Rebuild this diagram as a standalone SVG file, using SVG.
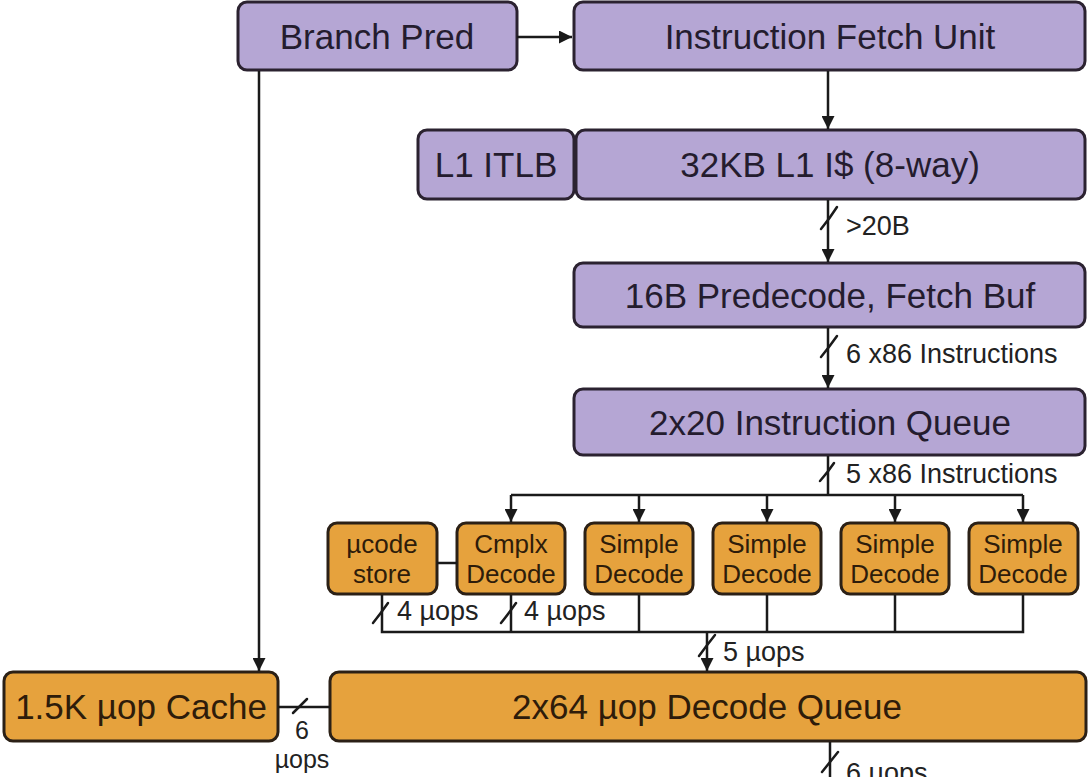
<svg xmlns="http://www.w3.org/2000/svg" width="1089" height="777" viewBox="0 0 1089 777">
  <defs>
    <marker id="arrow" viewBox="0 0 10 10" refX="10" refY="5" markerWidth="13" markerHeight="13" markerUnits="userSpaceOnUse" orient="auto">
      <path d="M0,0 L10,5 L0,10 z" fill="#1a1a1a"/>
    </marker>
    <style>
      .fe { fill: #b5a6d4; stroke: #2b2230; stroke-width: 3; }
      .de { fill: #e6a23d; stroke: #2b2016; stroke-width: 3; }
      .big { font-family: "Liberation Sans", Arial, sans-serif; font-size: 35px; fill: #241c2e; text-anchor: middle; }
      .bigo { font-family: "Liberation Sans", Arial, sans-serif; font-size: 35px; fill: #2e1c0a; text-anchor: middle; }
      .dec { font-family: "Liberation Sans", Arial, sans-serif; font-size: 26px; fill: #2e1c0a; text-anchor: middle; }
      .lbl { font-family: "Liberation Sans", Arial, sans-serif; font-size: 27px; fill: #222; }
      .wire { fill: none; stroke: #1a1a1a; stroke-width: 2.5; }
      .arr { fill: none; stroke: #1a1a1a; stroke-width: 2.5; marker-end: url(#arrow); }
      .slash { fill: none; stroke: #1a1a1a; stroke-width: 2.5; stroke-linecap: round; }
    </style>
  </defs>

  <!-- front end -->
  <g id="branch-pred">
    <rect class="fe" x="238" y="2" width="279" height="68" rx="9"/>
    <text class="big" x="377" y="49">Branch Pred</text>
  </g>
  <g id="fetch-unit">
    <rect class="fe" x="574" y="2" width="511" height="68" rx="9"/>
    <text class="big" x="830" y="49">Instruction Fetch Unit</text>
  </g>
  <g id="itlb">
    <rect class="fe" x="418" y="130" width="156" height="69" rx="9"/>
    <text class="big" x="496" y="177">L1 ITLB</text>
  </g>
  <g id="icache">
    <rect class="fe" x="576" y="130" width="509" height="69" rx="9"/>
    <text class="big" x="830" y="177">32KB L1 I$ (8-way)</text>
  </g>
  <g id="predecode">
    <rect class="fe" x="574" y="263" width="511" height="64" rx="9"/>
    <text class="big" x="830" y="308">16B Predecode, Fetch Buf</text>
  </g>
  <g id="inst-queue">
    <rect class="fe" x="574" y="389" width="511" height="66" rx="9"/>
    <text class="big" x="830" y="435">2x20 Instruction Queue</text>
  </g>

  <!-- decoders -->
  <g id="ucode-store">
    <rect class="de" x="328" y="523" width="109" height="71" rx="9"/>
    <text class="dec" x="382" y="553">µcode</text>
    <text class="dec" x="382" y="583">store</text>
  </g>
  <g id="cmplx-decode">
    <rect class="de" x="457" y="523" width="108" height="71" rx="9"/>
    <text class="dec" x="511" y="553">Cmplx</text>
    <text class="dec" x="511" y="583">Decode</text>
  </g>
  <g id="simple-decode-1">
    <rect class="de" x="585" y="523" width="108" height="71" rx="9"/>
    <text class="dec" x="639" y="553">Simple</text>
    <text class="dec" x="639" y="583">Decode</text>
  </g>
  <g id="simple-decode-2">
    <rect class="de" x="713" y="523" width="108" height="71" rx="9"/>
    <text class="dec" x="767" y="553">Simple</text>
    <text class="dec" x="767" y="583">Decode</text>
  </g>
  <g id="simple-decode-3">
    <rect class="de" x="841" y="523" width="108" height="71" rx="9"/>
    <text class="dec" x="895" y="553">Simple</text>
    <text class="dec" x="895" y="583">Decode</text>
  </g>
  <g id="simple-decode-4">
    <rect class="de" x="969" y="523" width="109" height="71" rx="9"/>
    <text class="dec" x="1023" y="553">Simple</text>
    <text class="dec" x="1023" y="583">Decode</text>
  </g>

  <!-- uop cache and decode queue -->
  <g id="uop-cache">
    <rect class="de" x="4" y="672" width="274" height="69" rx="9"/>
    <text class="bigo" x="141" y="719">1.5K µop Cache</text>
  </g>
  <g id="decode-queue">
    <rect class="de" x="330" y="672" width="756" height="69" rx="9"/>
    <text class="bigo" x="707" y="719">2x64 µop Decode Queue</text>
  </g>

  <!-- connectors -->
  <g id="connectors">
    <path class="arr" d="M517,37 H572"/>
    <path class="arr" d="M828,71 V129"/>
    <path class="arr" d="M828,200 V262"/>
    <path class="arr" d="M828,328 V388"/>
    <path class="wire" d="M828,456 V495"/>
    <path class="wire" d="M511,495 H1023"/>
    <path class="arr" d="M511,495 V522"/>
    <path class="arr" d="M639,495 V522"/>
    <path class="arr" d="M767,495 V522"/>
    <path class="arr" d="M895,495 V522"/>
    <path class="arr" d="M1023,495 V522"/>
    <path class="wire" d="M437,563 H457"/>
    <path class="wire" d="M382,595 V632 H1023 V595"/>
    <path class="wire" d="M511,595 V632"/>
    <path class="wire" d="M639,595 V632"/>
    <path class="wire" d="M767,595 V632"/>
    <path class="wire" d="M895,595 V632"/>
    <path class="arr" d="M707,632 V671"/>
    <path class="arr" d="M259,71 V671"/>
    <path class="wire" d="M278,707 H330"/>
    <path class="wire" d="M830,742 V777"/>

    <!-- width slashes -->
    <path class="slash" d="M821,229 Q830,218 837,207"/>
    <path class="slash" d="M821,357 Q830,346 837,336"/>
    <path class="slash" d="M820,481 Q828,472 834,463"/>
    <path class="slash" d="M373,623 Q381,613 388,603"/>
    <path class="slash" d="M501,623 Q509,613 516,603"/>
    <path class="slash" d="M699,656 Q707,645 715,635"/>
    <path class="slash" d="M293,713 Q300,706 307,699"/>
    <path class="slash" d="M822,772 Q830,762 838,752"/>
  </g>

  <!-- bus widths -->
  <g id="labels">
    <text class="lbl" x="846" y="235">&gt;20B</text>
    <text class="lbl" x="846" y="363">6 x86 Instructions</text>
    <text class="lbl" x="846" y="483">5 x86 Instructions</text>
    <text class="lbl" x="397" y="620">4 µops</text>
    <text class="lbl" x="524" y="620">4 µops</text>
    <text class="lbl" x="723" y="661">5 µops</text>
    <text class="lbl" x="302" y="739" text-anchor="middle" style="font-size:25px">6</text>
    <text class="lbl" x="302" y="768" text-anchor="middle" style="font-size:25px">µops</text>
    <text class="lbl" x="846" y="782">6 µops</text>
  </g>
</svg>
